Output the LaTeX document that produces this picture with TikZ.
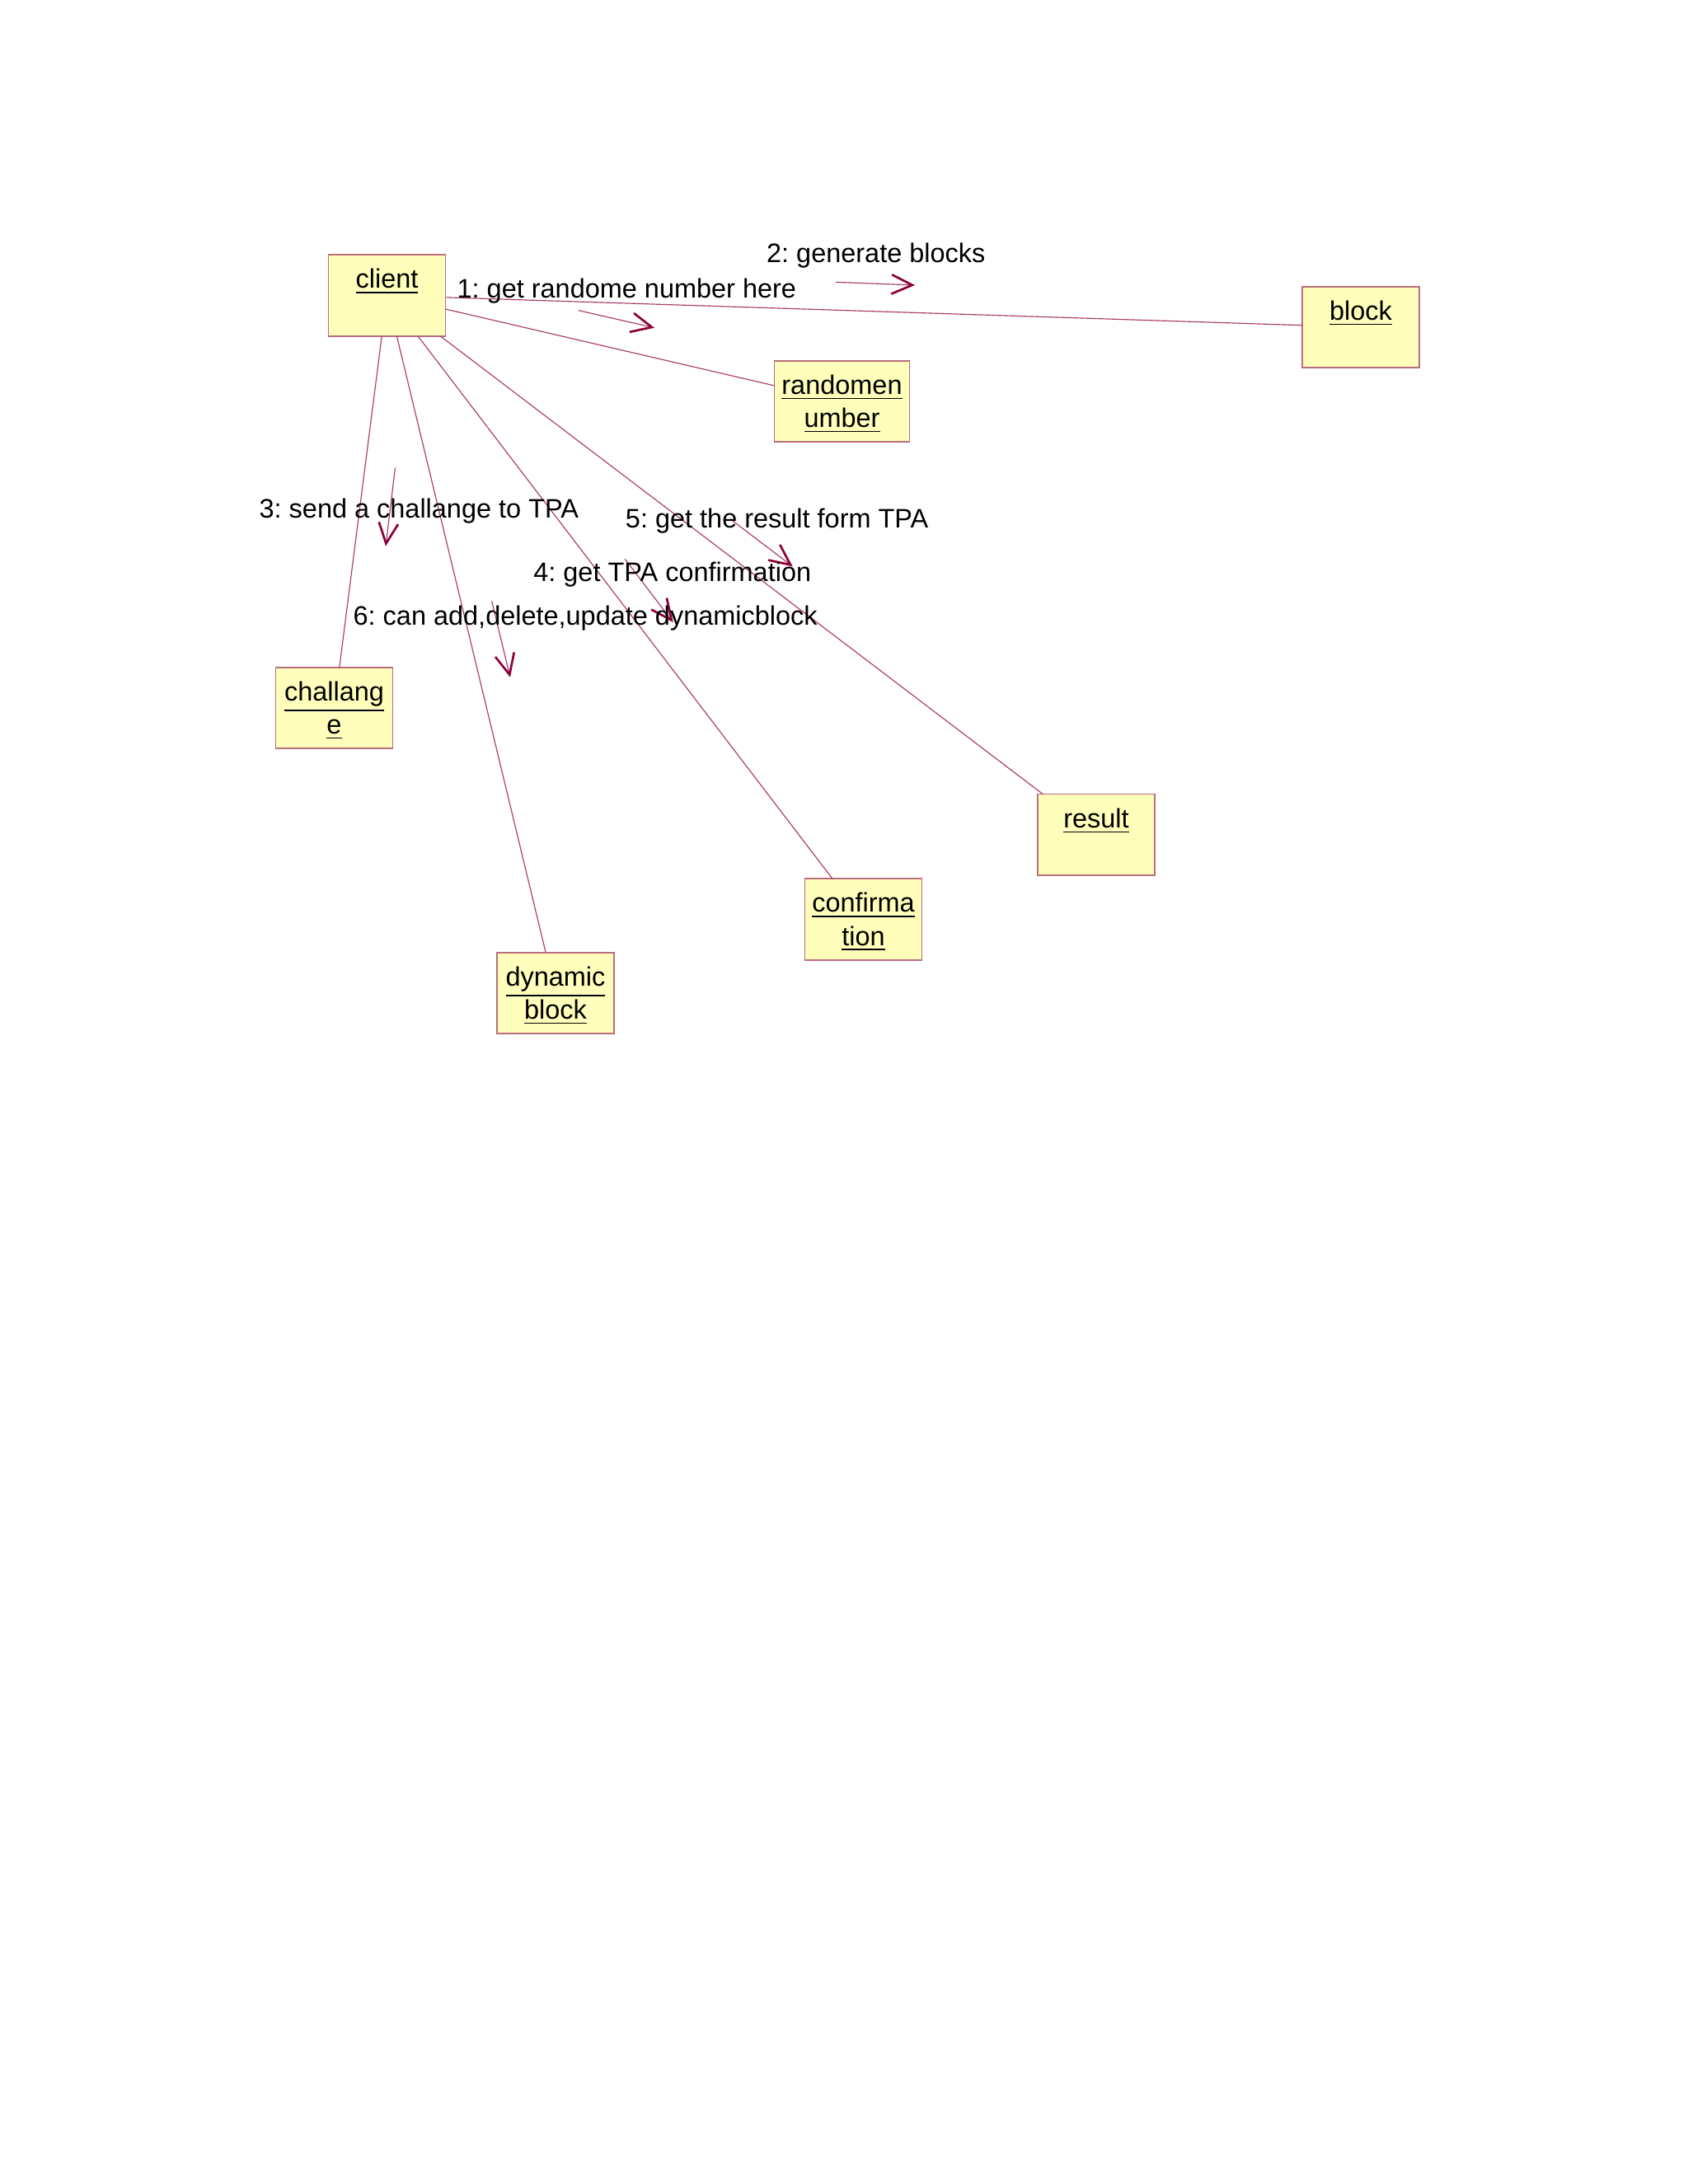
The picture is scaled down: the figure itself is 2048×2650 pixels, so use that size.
\documentclass[tikz,border=0pt]{standalone}
\usepackage{fontspec}
\setmainfont{Liberation Sans}
\usetikzlibrary{arrows.meta}
\frenchspacing

\definecolor{linkc}{RGB}{170,60,110}
\definecolor{tipc}{RGB}{140,0,55}
\definecolor{boxfill}{RGB}{255,255,187}
\definecolor{boxline}{RGB}{185,110,125}

\tikzset{
  obj/.style={draw=boxline, fill=boxfill, line width=0.5pt, minimum width=42.4pt, minimum height=29.4pt, inner sep=0pt, outer sep=0pt},
  objname/.style={anchor=north, inner sep=0pt, align=center, yshift=-4.9pt, font=\fontsize{9.7pt}{12pt}\selectfont},
  msgtext/.style={anchor=base west, inner sep=0pt, font=\fontsize{9.7pt}{12pt}\selectfont},
  link/.style={draw=linkc, line width=0.35pt},
  msg/.style={draw=linkc, line width=0.35pt, -{Straight Barb[length=7.5pt,width=7pt,line width=0.8pt,color=tipc]}}
}

\begin{document}
\begin{tikzpicture}[x=0.29883pt,y=-0.29883pt]
\useasboundingbox (0,0) rectangle (2048,2650);
\fill[white] (0,0) rectangle (2048,2650);

%Shape: Rectangle [client]
\node[obj] (client) at (469.5,358.5) {};
%Shape: Rectangle [block]
\node[obj] (block) at (1651,397) {};
%Shape: Rectangle [randomenumber]
\node[obj, minimum width=49pt] (rnd) at (1021.5,487) {};
%Shape: Rectangle [challange]
\node[obj] (chal) at (405.5,859) {};
%Shape: Rectangle [result]
\node[obj] (result) at (1330,1012.8) {};
%Shape: Rectangle [confirmation]
\node[obj] (conf) at (1047.5,1115.5) {};
%Shape: Rectangle [dynamic block]
\node[obj] (dyn) at (674,1205) {};

%Straight Lines
\draw[link] (client) -- (block);
\draw[link] (client) -- (rnd);
\draw[link] (client) -- (chal);
\draw[link] (client) -- (dyn);
\draw[link] (client) -- (conf);
\draw[link] (client) -- (result);

% Text Node
\node[objname] (clientname) at (client.north) {\underline{client}};
\node[objname] (blockname) at (block.north) {\underline{block}};
\node[objname] (rndname) at (rnd.north) {\underline{randomen}\\\underline{umber}};
\node[objname] (chalname) at (chal.north) {\underline{challang}\\\underline{e}};
\node[objname] (resultname) at (result.north) {\underline{result}};
\node[objname] (confname) at (conf.north) {\underline{confirma}\\\underline{tion}};
\node[objname] (dynname) at (dyn.north) {\underline{dynamic}\\\underline{block}};

%Message arrows
\coordinate (m1a) at (702,376.7);   \coordinate (m1b) at (794,397.7);
\coordinate (m2a) at (1014,342.3);  \coordinate (m2b) at (1110,346);
\coordinate (m3a) at (479.5,567.3); \coordinate (m3b) at (468,662.7);
\coordinate (m4a) at (758.3,678.3); \coordinate (m4b) at (816.7,755);
\coordinate (m5a) at (886,629.8);   \coordinate (m5b) at (961.7,687.3);
\coordinate (m6a) at (596.7,729.4); \coordinate (m6b) at (619,821.7);
\foreach \m in {1,...,6}
  \draw[msg] (m\m a) -- (m\m b);

% Text Node
\node[msgtext] (t1) at (554,361.7) {1: get randome number here};
\node[msgtext] (t2) at (929.5,318.3) {2: generate blocks};
\node[msgtext] (t3) at (314,628.3) {3: send a challange to TPA};
\node[msgtext] (t4) at (646.7,705) {4: get TPA confirmation};
\node[msgtext] (t5) at (758.3,640) {5: get the result form TPA};
\node[msgtext] (t6) at (428,758.5) {6: can add,delete,update dynamicblock};

\end{tikzpicture}
\end{document}
